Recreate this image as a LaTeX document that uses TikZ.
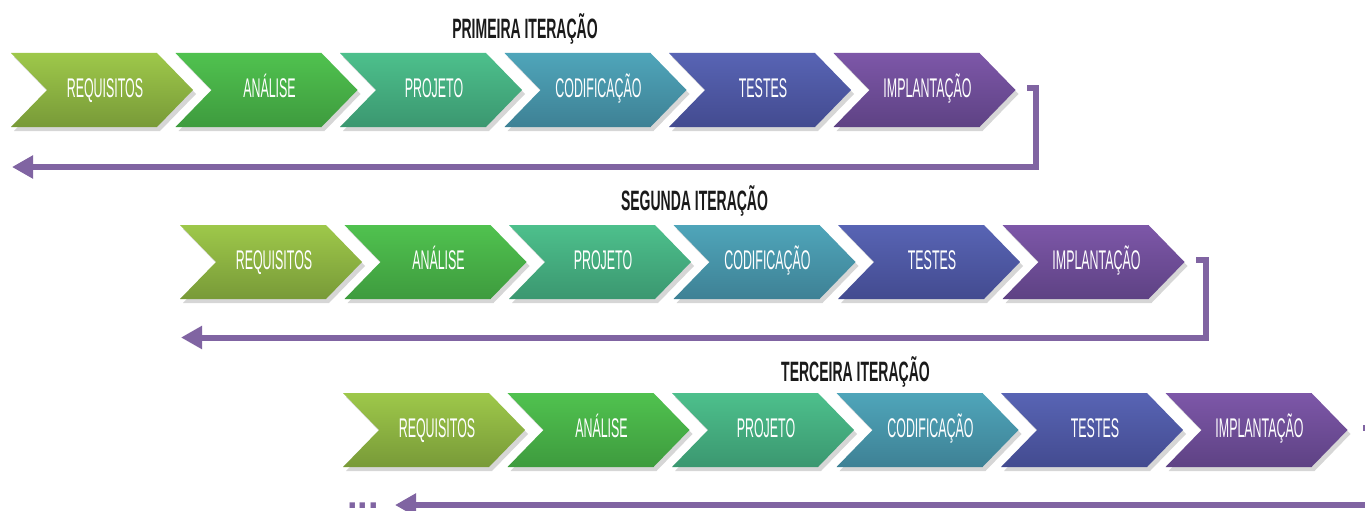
\documentclass[tikz,border=0pt]{standalone}
\usepackage{fontspec}
\setmainfont{Liberation Sans}
\newfontfamily\chevfont[FakeStretch=0.46]{Liberation Sans}
\newfontfamily\titlefont[FakeStretch=0.5]{Liberation Sans}
\usetikzlibrary{arrows.meta}
\definecolor{cAtop}{HTML}{9EC84A}\definecolor{cAbot}{HTML}{789A38}
\definecolor{cBtop}{HTML}{50C24F}\definecolor{cBbot}{HTML}{3E9B3E}
\definecolor{cCtop}{HTML}{4DC08C}\definecolor{cCbot}{HTML}{3B9770}
\definecolor{cDtop}{HTML}{4FA5BA}\definecolor{cDbot}{HTML}{3E8195}
\definecolor{cEtop}{HTML}{5864B4}\definecolor{cEbot}{HTML}{434B90}
\definecolor{cFtop}{HTML}{7D57A8}\definecolor{cFbot}{HTML}{5E4284}
\definecolor{arrowpurple}{HTML}{8064A2}
\definecolor{titlegray}{HTML}{1A1A1A}
\tikzset{
  chevtext/.style={text=white, font=\chevfont\fontsize{27}{28}\selectfont, inner sep=0pt, anchor=base},
  titletext/.style={text=titlegray, font=\titlefont\bfseries\fontsize{28}{29}\selectfont, inner sep=0pt, anchor=base},
  returnarrow/.style={draw=arrowpurple, line width=6pt, line join=miter, -{Triangle[length=21pt,width=22pt]}},
  chevshadow/.style={fill=black, opacity=0.16},
  dotstext/.style={text=arrowpurple, font=\bfseries\fontsize{38}{38}\selectfont, inner sep=0pt, anchor=base}
}
% #1 node name, #2 left x, #3 top y, #4 colour prefix, #5 label
\newcommand\mychev[5]{%
  \fill[chevshadow] (#2+3,#3+4) -- ++(146,0) -- ++(36,37) -- ++(-36,37) -- ++(-146,0) -- ++(36,-37) -- cycle;
  \path[top color=#4top, bottom color=#4bot] (#2,#3) -- ++(146,0) -- ++(36,37) -- ++(-36,37) -- ++(-146,0) -- ++(36,-37) -- cycle;
  \node[chevtext] (#1) at (#2+94,#3+44.5) {#5};
}
\newcommand\myrow[3]{% #1 prefix, #2 left x, #3 top y
  \mychev{#1a}{#2}{#3}{cA}{REQUISITOS}
  \mychev{#1b}{#2+164.5}{#3}{cB}{ANÁLISE}
  \mychev{#1c}{#2+329}{#3}{cC}{PROJETO}
  \mychev{#1d}{#2+493.5}{#3}{cD}{CODIFICAÇÃO}
  \mychev{#1e}{#2+658}{#3}{cE}{TESTES}
  \mychev{#1f}{#2+822.5}{#3}{cF}{IMPLANTAÇÃO}
}
\begin{document}
\begin{tikzpicture}[x=1pt,y=-1pt]
  \useasboundingbox (0,0) rectangle (1365,511);
  \clip (0,0) rectangle (1365,511);
  \fill[white] (0,0) rectangle (1365,511);

  % titles
  \node[titletext] (t1) at (525,38.5) {PRIMEIRA ITERAÇÃO};
  \node[titletext] (t2) at (694.5,210) {SEGUNDA ITERAÇÃO};
  \node[titletext] (t3) at (855.5,381) {TERCEIRA ITERAÇÃO};

  % chevron rows
  \myrow{r1}{11}{53}
  \myrow{r2}{180}{225}
  \myrow{r3}{343}{393}

  % return arrows
  \coordinate (a1s) at (1027,88);
  \coordinate (a1k) at (1036,88);
  \coordinate (a1b) at (1036,167);
  \coordinate (a1e) at (12,167);
  \draw[returnarrow] (a1s) -- (a1k) -- (a1b) -- (a1e);

  \coordinate (a2s) at (1196,260);
  \coordinate (a2k) at (1206,260);
  \coordinate (a2b) at (1206,337.5);
  \coordinate (a2e) at (181,337.5);
  \draw[returnarrow] (a2s) -- (a2k) -- (a2b) -- (a2e);

  \coordinate (a3s) at (1363,428);
  \coordinate (a3k) at (1372,428);
  \coordinate (a3b) at (1372,505);
  \coordinate (a3e) at (395,505);
  \draw[returnarrow] (a3s) -- (a3k) -- (a3b) -- (a3e);

  \node[dotstext] (dots) at (363,508) {...};
\end{tikzpicture}
\end{document}
